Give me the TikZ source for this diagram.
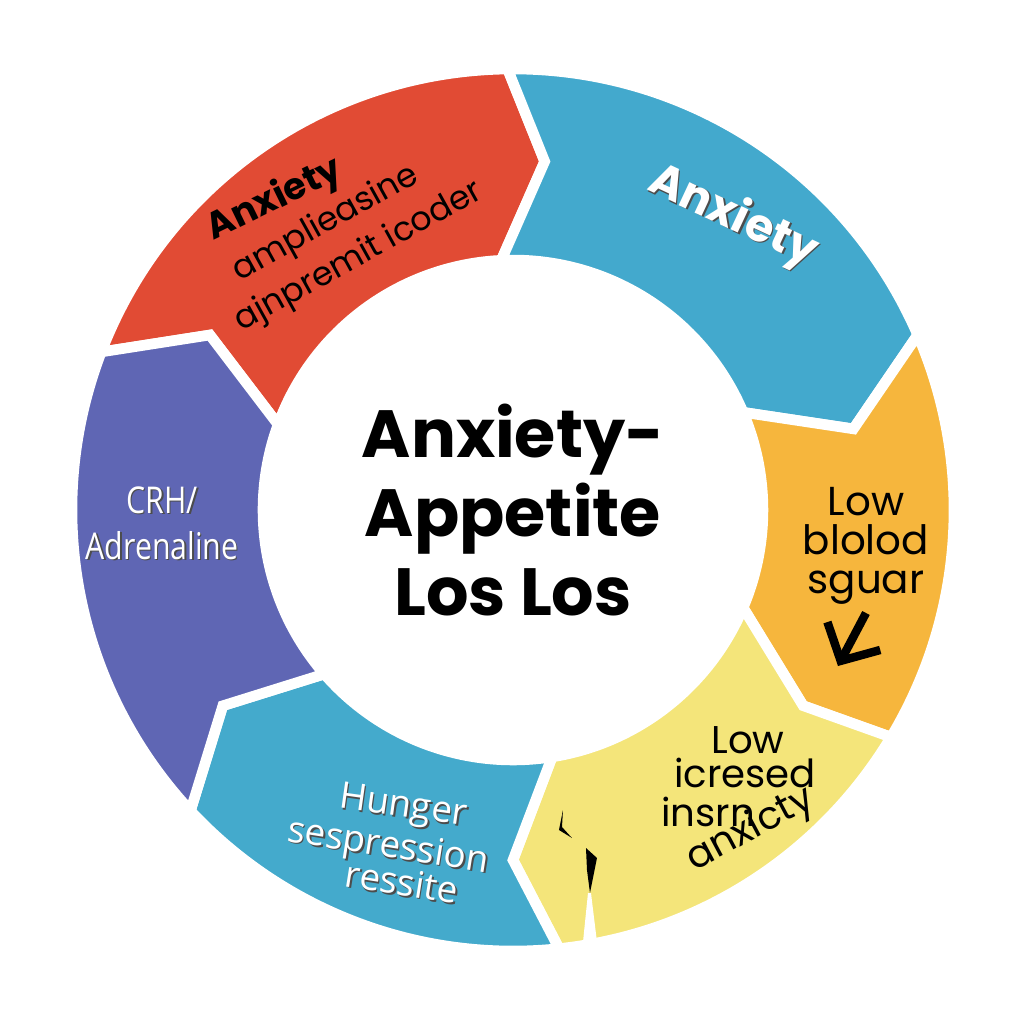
\documentclass[tikz,border=0pt]{standalone}
\usepackage{fontspec}
\setmainfont{Poppins}
\newfontfamily\labelfont{Open Sans}
\newfontfamily\narrowfont[FakeStretch=0.82]{Open Sans}
\usetikzlibrary{arrows.meta}

\definecolor{redseg}{HTML}{E14B34}
\definecolor{blueseg}{HTML}{43A9CD}
\definecolor{orangeseg}{HTML}{F6B63D}
\definecolor{yellowseg}{HTML}{F4E57A}
\definecolor{cyanseg}{HTML}{44AACC}
\definecolor{purpleseg}{HTML}{5F66B4}

% one piece of the ring: colour, outer/inner/notch angle at the start,
% outer/inner/tip angle at the end
\newcommand{\ringpart}[7]{%
  \fill[#1, draw=white, line width=3pt, line join=miter]
    (#2:4.41) arc[start angle=#2, end angle=#5, radius=4.41]
    -- (#7:3.50) -- (#6:2.50)
    arc[start angle=#6, end angle=#3, radius=2.50]
    -- (#4:3.50) -- cycle;}

\begin{document}
\begin{tikzpicture}[
  blacklabel/.style={text=black, inner sep=0pt, align=center},
  whitelabel/.style={text=white, inner sep=0pt, align=center,
    font=\labelfont\fontsize{10.5}{12}\selectfont},
  shadowlabel/.style={whitelabel, text=black!70, xshift=0.45pt, yshift=-0.45pt},
  sugararrow/.style={line width=2.4pt, -{Straight Barb[length=8pt, width=17pt]}}
]
  \fill[white] (-5.13,-5.14) rectangle (5.11,5.10);
  \useasboundingbox (-5.13,-5.14) rectangle (5.11,5.10);

  % The six pieces of the cycle, going clockwise.
  \ringpart{redseg}{159}{160}{150}{90.7}{92.7}{84.8}
  \ringpart{blueseg}{90.7}{92.7}{84.8}{23.4}{23}{13.4}
  \ringpart{orangeseg}{23.4}{23}{13.4}{-31}{-23}{-34}
  \ringpart{yellowseg}{-31}{-23}{-34}{-84}{-81}{-90}
  \ringpart{cyanseg}{-84}{-81}{-90}{-137}{-139}{-146}
  \ringpart{purpleseg}{-137}{-139}{-146}{-201}{-200}{-210}

  % Torn bits in the yellow piece.
  \fill[black] (0.50,-3.00) -- (0.46,-3.20) -- (0.59,-3.28) -- (0.49,-3.17) -- cycle;
  \fill[black] (0.73,-3.38) -- (0.84,-3.48) -- (0.77,-3.83) -- (0.74,-3.60) -- cycle;
  \fill[white] (0.75,-3.83) -- (0.70,-4.32) -- (0.84,-4.32) -- (0.78,-3.83) -- cycle;

  % Centre title.
  \node[blacklabel, font=\bfseries\fontsize{19}{22.5}\selectfont] (title) at (0,0)
    {Anxiety-\\Appetite\\Los Los};

  % Red piece.
  \node[blacklabel, rotate=26, font=\bfseries\fontsize{10.5}{12}\selectfont] (redhead) at (-2.38,3.10) {Anxiety};
  \node[blacklabel, rotate=29, font=\fontsize{9.5}{11}\selectfont] (redline1) at (-1.87,2.86) {amplieasine};
  \node[blacklabel, rotate=29, font=\fontsize{9.5}{11}\selectfont] (redline2) at (-1.54,2.53) {ajnpremit icoder};

  % Blue piece.
  \node[shadowlabel, rotate=-25, font=\bfseries\fontsize{13}{15}\selectfont] (blueheadS) at (2.20,2.93) {Anxiety};
  \node[whitelabel, rotate=-25, font=\bfseries\fontsize{13}{15}\selectfont] (bluehead) at (2.20,2.93) {Anxiety};

  % Orange piece.
  \node[blacklabel, font=\fontsize{11.5}{11.2}\selectfont] (sugar) at (3.53,-0.36) {Low\\blolod\\sguar};
  \coordinate (sugartail) at (3.53,-1.03);
  \coordinate (sugarhead) at (3.25,-1.56);
  \draw[sugararrow] (sugartail) -- (sugarhead);

  % Yellow piece.
  \node[blacklabel, font=\fontsize{11}{12}\selectfont] (yellowlow) at (2.35,-2.30) {Low};
  \node[blacklabel, font=\fontsize{11}{12}\selectfont] (yellowmid) at (2.32,-2.63) {icresed};
  \node[blacklabel, font=\fontsize{11}{12}\selectfont] (yellowins) at (1.95,-3.02) {insrn};
  \node[blacklabel, rotate=28, font=\fontsize{11}{12}\selectfont] (yellowanx) at (2.38,-3.20) {anxicty};

  % Cyan piece.
  \node[shadowlabel, rotate=-8] (hungerS) at (-1.10,-2.98) {Hunger};
  \node[whitelabel, rotate=-8] (hunger) at (-1.10,-2.98) {Hunger};
  \node[shadowlabel, rotate=-9] (sespS) at (-1.25,-3.38) {sespression};
  \node[whitelabel, rotate=-9] (sesp) at (-1.25,-3.38) {sespression};
  \node[shadowlabel, rotate=-9] (ressiteS) at (-1.11,-3.72) {ressite};
  \node[whitelabel, rotate=-9] (ressite) at (-1.11,-3.72) {ressite};

  % Purple piece.
  \node[shadowlabel, font=\narrowfont\fontsize{10.5}{13}\selectfont] (crhS) at (-3.51,-0.13) {CRH/\\Adrenaline};
  \node[whitelabel, font=\narrowfont\fontsize{10.5}{13}\selectfont] (crh) at (-3.51,-0.13) {CRH/\\Adrenaline};
\end{tikzpicture}
\end{document}
